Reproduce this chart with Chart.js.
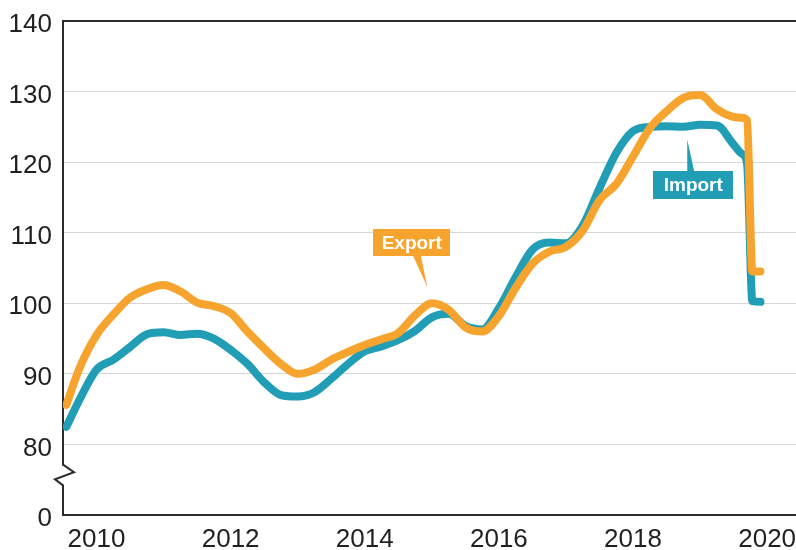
<!DOCTYPE html>
<html><head><meta charset="utf-8">
<script src="https://cdn.jsdelivr.net/npm/chart.js@4/dist/chart.umd.min.js"></script>
<style>html,body{margin:0;padding:0;background:#fff;}</style>
</head><body>
<canvas id="c" width="796" height="550"></canvas>
<script>
// Time (decimal year) of each sample
const dates = [
  2010.05, 2010.25, 2010.5, 2010.75,
  2011.0, 2011.25, 2011.5, 2011.75,
  2012.0, 2012.25, 2012.5, 2012.75,
  2013.0, 2013.25, 2013.5, 2013.75,
  2014.0, 2014.25, 2014.5, 2014.75,
  2015.0, 2015.25, 2015.5, 2015.75,
  2016.0, 2016.25, 2016.5, 2016.75,
  2017.0, 2017.25, 2017.5, 2017.75,
  2018.0, 2018.25, 2018.5, 2018.75,
  2019.0, 2019.25, 2019.5, 2019.75,
  2020.0, 2020.12, 2020.2, 2020.28, 2020.4
];
const importValues = [
  82.5, 86.4, 90.6, 92.0,
  93.8, 95.6, 95.9, 95.5,
  95.7, 95.0, 93.4, 91.4,
  88.8, 87.0, 86.8, 87.4,
  89.3, 91.4, 93.2, 93.9,
  94.8, 96.1, 98.0, 98.5,
  96.8, 96.3, 99.3, 103.7,
  107.6, 108.6, 108.5, 111.0,
  116.3, 121.3, 124.4, 125.0,
  125.1, 125.0, 125.3, 125.2,
  122.5, 121.2, 119.8, 100.3, 100.2
];
const exportValues = [
  85.6, 90.9, 95.5, 98.4,
  100.8, 102.0, 102.6, 101.7,
  100.1, 99.6, 98.6, 96.0,
  93.6, 91.4, 90.0, 90.6,
  92.0, 93.1, 94.1, 94.9,
  95.8, 98.3, 100.0, 99.1,
  96.6, 96.0, 98.2, 102.2,
  105.6, 107.3, 108.0, 110.3,
  114.6, 116.9, 120.8, 124.8,
  127.2, 129.1, 129.5, 127.5,
  126.4, 126.3, 125.9, 104.5, 104.5
];
const seriesNames = ['Export', 'Import'];
const yearLabels = ['2010', '2012', '2014', '2016', '2018', '2020'];
const yTickValues = [70, 80, 90, 100, 110, 120, 130, 140];
const yTickLabels = ['0', '80', '90', '100', '110', '120', '130', '140'];

const TEAL = '#219EB5';
const ORANGE = '#F7A42F';
const AXIS = '#2b2b2b';
const FONT = '"Liberation Sans", Arial, sans-serif';

function toPoints(vals) { return dates.map((d, i) => ({ x: d, y: vals[i] })); }

// axis break (zigzag) on the y axis between 0 and 80
const breakPlugin = {
  id: 'axisBreak',
  afterDraw(chart) {
    const ctx = chart.ctx, ys = chart.scales.y, left = chart.chartArea.left;
    const yTop = ys.getPixelForValue(77.0), yBot = ys.getPixelForValue(74.2);
    ctx.save();
    ctx.fillStyle = '#fff';
    ctx.fillRect(left - 3, yTop, 6, yBot - yTop);
    ctx.strokeStyle = AXIS; ctx.lineWidth = 2; ctx.lineJoin = 'miter';
    ctx.beginPath();
    ctx.moveTo(left, yTop - 1);
    ctx.lineTo(left + 11, ys.getPixelForValue(76.05));
    ctx.lineTo(left - 8, ys.getPixelForValue(75.05));
    ctx.lineTo(left, yBot);
    ctx.lineTo(left, yBot + 1);
    ctx.stroke();
    ctx.restore();
  }
};

// series callout labels
const callouts = [
  { text: seriesNames[0], color: ORANGE, cx: 2015.2, cy: 108.6, w: 77, h: 27, tipX: 2015.432, tipY: 102.31, base: [1, 9], side: 'bottom' },
  { text: seriesNames[1], color: TEAL, cx: 2019.398, cy: 116.8, w: 80, h: 28, tipX: 2019.308, tipY: 123.21, base: [-6, 1], side: 'top' }
];
const calloutPlugin = {
  id: 'callouts',
  afterDatasetsDraw(chart) {
    const ctx = chart.ctx, xs = chart.scales.x, ys = chart.scales.y;
    ctx.save();
    callouts.forEach(c => {
      const cx = xs.getPixelForValue(c.cx), cy = ys.getPixelForValue(c.cy);
      const tx = xs.getPixelForValue(c.tipX), ty = ys.getPixelForValue(c.tipY);
      const by = c.side === 'bottom' ? cy + c.h / 2 - 1 : cy - c.h / 2 + 1;
      ctx.fillStyle = c.color;
      ctx.beginPath();
      ctx.moveTo(cx + c.base[0], by);
      ctx.lineTo(tx, ty);
      ctx.lineTo(cx + c.base[1], by);
      ctx.closePath();
      ctx.fill();
      ctx.fillRect(Math.round(cx - c.w / 2), Math.round(cy - c.h / 2), c.w, c.h);
      ctx.fillStyle = '#fff';
      ctx.font = 'bold 19px ' + FONT;
      ctx.textAlign = 'center';
      ctx.textBaseline = 'middle';
      ctx.fillText(c.text, cx, cy + 1);
    });
    ctx.restore();
  }
};

new Chart(document.getElementById('c'), {
  type: 'line',
  data: {
    datasets: [
      { label: seriesNames[0], data: toPoints(exportValues), borderColor: ORANGE, order: 0 },
      { label: seriesNames[1], data: toPoints(importValues), borderColor: TEAL, order: 1 }
    ]
  },
  options: {
    responsive: false,
    animation: false,
    devicePixelRatio: 1,
    layout: { padding: { top: 21, right: 0, bottom: 0, left: 0 } },
    plugins: { legend: { display: false }, tooltip: { enabled: false } },
    elements: {
      point: { radius: 0, hoverRadius: 0 },
      line: { borderWidth: 8, cubicInterpolationMode: 'monotone', borderCapStyle: 'round', borderJoinStyle: 'round', fill: false }
    },
    scales: {
      x: {
        type: 'linear', min: 2010.0, max: 2020.93,
        afterBuildTicks: s => { s.ticks = yearLabels.map(l => ({ value: Number(l) + 0.5 })); },
        afterFit: s => { s.height = 35; s.paddingLeft = 0; s.paddingRight = 0; },
        grid: { display: true, color: 'rgba(0,0,0,0)', drawTicks: false },
        border: { display: true, color: AXIS, width: 2 },
        ticks: { autoSkip: false, maxRotation: 0, minRotation: 0, padding: 9, color: '#231f20',
                 font: { family: FONT, size: 26 }, callback: (v, i) => yearLabels[i] }
      },
      y: {
        min: 70, max: 140,
        afterBuildTicks: s => { s.ticks = yTickValues.map(v => ({ value: v })); },
        afterFit: s => { s.width = 63; s.paddingTop = 0; s.paddingBottom = 0; },
        grid: {
          drawTicks: false,
          color: c => c.tick && c.tick.value === 140 ? AXIS : (c.tick && c.tick.value === 70 ? 'rgba(0,0,0,0)' : '#d6d6d6'),
          lineWidth: c => c.tick && c.tick.value === 140 ? 2 : 1
        },
        border: { display: true, color: AXIS, width: 2 },
        ticks: { padding: 11, labelOffset: 4, color: '#231f20', font: { family: FONT, size: 26 },
                 callback: (v, i) => yTickLabels[i] }
      }
    }
  },
  plugins: [breakPlugin, calloutPlugin]
});
</script>
</body></html>
